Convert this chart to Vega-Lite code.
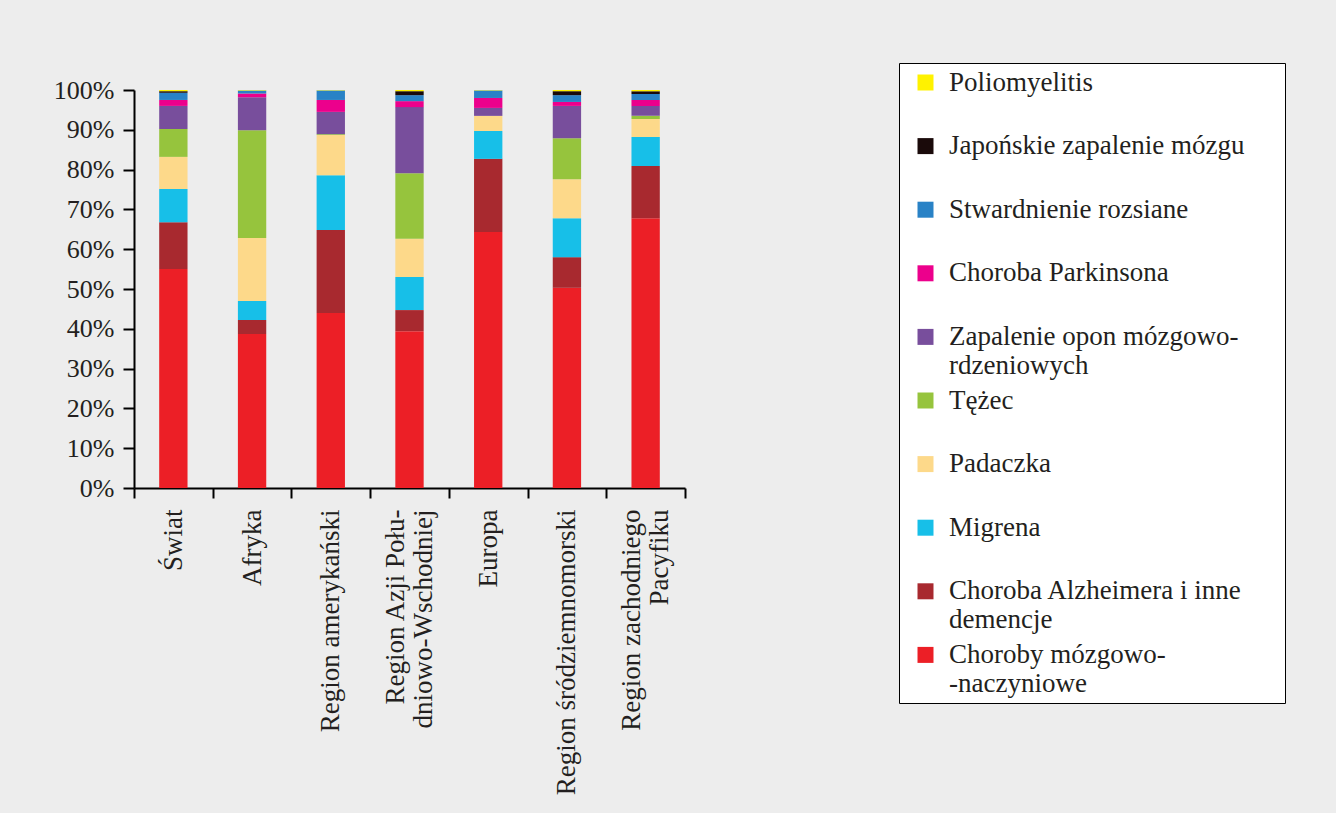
{
  "$schema": "https://vega.github.io/schema/vega-lite/v6.json",
  "background": "#ededed",
  "autosize": {"type": "none"},
  "width": 551,
  "height": 398,
  "padding": {"left": 134, "top": 90, "right": 651, "bottom": 325},
  "data": {
    "values": [
      {"region": "Świat", "disease": "Choroby mózgowo-naczyniowe", "share": 55.0},
      {"region": "Świat", "disease": "Choroba Alzheimera i inne demencje", "share": 11.8},
      {"region": "Świat", "disease": "Migrena", "share": 8.3},
      {"region": "Świat", "disease": "Padaczka", "share": 8.1},
      {"region": "Świat", "disease": "Tężec", "share": 7.0},
      {"region": "Świat", "disease": "Zapalenie opon mózgowo-rdzeniowych", "share": 5.8},
      {"region": "Świat", "disease": "Choroba Parkinsona", "share": 1.5},
      {"region": "Świat", "disease": "Stwardnienie rozsiane", "share": 1.8},
      {"region": "Świat", "disease": "Japońskie zapalenie mózgu", "share": 0.4},
      {"region": "Świat", "disease": "Poliomyelitis", "share": 0.3},

      {"region": "Afryka", "disease": "Choroby mózgowo-naczyniowe", "share": 38.7},
      {"region": "Afryka", "disease": "Choroba Alzheimera i inne demencje", "share": 3.5},
      {"region": "Afryka", "disease": "Migrena", "share": 4.8},
      {"region": "Afryka", "disease": "Padaczka", "share": 15.8},
      {"region": "Afryka", "disease": "Tężec", "share": 27.1},
      {"region": "Afryka", "disease": "Zapalenie opon mózgowo-rdzeniowych", "share": 8.3},
      {"region": "Afryka", "disease": "Choroba Parkinsona", "share": 0.9},
      {"region": "Afryka", "disease": "Stwardnienie rozsiane", "share": 0.8},
      {"region": "Afryka", "disease": "Japońskie zapalenie mózgu", "share": 0.0},
      {"region": "Afryka", "disease": "Poliomyelitis", "share": 0.1},

      {"region": "Region amerykański", "disease": "Choroby mózgowo-naczyniowe", "share": 44.0},
      {"region": "Region amerykański", "disease": "Choroba Alzheimera i inne demencje", "share": 20.8},
      {"region": "Region amerykański", "disease": "Migrena", "share": 13.8},
      {"region": "Region amerykański", "disease": "Padaczka", "share": 10.1},
      {"region": "Region amerykański", "disease": "Tężec", "share": 0.2},
      {"region": "Region amerykański", "disease": "Zapalenie opon mózgowo-rdzeniowych", "share": 5.6},
      {"region": "Region amerykański", "disease": "Choroba Parkinsona", "share": 3.0},
      {"region": "Region amerykański", "disease": "Stwardnienie rozsiane", "share": 2.4},
      {"region": "Region amerykański", "disease": "Japońskie zapalenie mózgu", "share": 0.0},
      {"region": "Region amerykański", "disease": "Poliomyelitis", "share": 0.1},

      {"region": "Region Azji Południowo-Wschodniej", "disease": "Choroby mózgowo-naczyniowe", "share": 39.4},
      {"region": "Region Azji Południowo-Wschodniej", "disease": "Choroba Alzheimera i inne demencje", "share": 5.3},
      {"region": "Region Azji Południowo-Wschodniej", "disease": "Migrena", "share": 8.3},
      {"region": "Region Azji Południowo-Wschodniej", "disease": "Padaczka", "share": 9.6},
      {"region": "Region Azji Południowo-Wschodniej", "disease": "Tężec", "share": 16.5},
      {"region": "Region Azji Południowo-Wschodniej", "disease": "Zapalenie opon mózgowo-rdzeniowych", "share": 16.6},
      {"region": "Region Azji Południowo-Wschodniej", "disease": "Choroba Parkinsona", "share": 1.5},
      {"region": "Region Azji Południowo-Wschodniej", "disease": "Stwardnienie rozsiane", "share": 1.5},
      {"region": "Region Azji Południowo-Wschodniej", "disease": "Japońskie zapalenie mózgu", "share": 1.0},
      {"region": "Region Azji Południowo-Wschodniej", "disease": "Poliomyelitis", "share": 0.3},

      {"region": "Europa", "disease": "Choroby mózgowo-naczyniowe", "share": 64.3},
      {"region": "Europa", "disease": "Choroba Alzheimera i inne demencje", "share": 18.4},
      {"region": "Europa", "disease": "Migrena", "share": 7.0},
      {"region": "Europa", "disease": "Padaczka", "share": 3.8},
      {"region": "Europa", "disease": "Tężec", "share": 0.0},
      {"region": "Europa", "disease": "Zapalenie opon mózgowo-rdzeniowych", "share": 2.0},
      {"region": "Europa", "disease": "Choroba Parkinsona", "share": 2.5},
      {"region": "Europa", "disease": "Stwardnienie rozsiane", "share": 1.9},
      {"region": "Europa", "disease": "Japońskie zapalenie mózgu", "share": 0.0},
      {"region": "Europa", "disease": "Poliomyelitis", "share": 0.1},

      {"region": "Region śródziemnomorski", "disease": "Choroby mózgowo-naczyniowe", "share": 50.3},
      {"region": "Region śródziemnomorski", "disease": "Choroba Alzheimera i inne demencje", "share": 7.7},
      {"region": "Region śródziemnomorski", "disease": "Migrena", "share": 9.8},
      {"region": "Region śródziemnomorski", "disease": "Padaczka", "share": 9.8},
      {"region": "Region śródziemnomorski", "disease": "Tężec", "share": 10.3},
      {"region": "Region śródziemnomorski", "disease": "Zapalenie opon mózgowo-rdzeniowych", "share": 8.1},
      {"region": "Region śródziemnomorski", "disease": "Choroba Parkinsona", "share": 1.0},
      {"region": "Region śródziemnomorski", "disease": "Stwardnienie rozsiane", "share": 1.7},
      {"region": "Region śródziemnomorski", "disease": "Japońskie zapalenie mózgu", "share": 1.0},
      {"region": "Region śródziemnomorski", "disease": "Poliomyelitis", "share": 0.3},

      {"region": "Region zachodniego Pacyfiku", "disease": "Choroby mózgowo-naczyniowe", "share": 67.8},
      {"region": "Region zachodniego Pacyfiku", "disease": "Choroba Alzheimera i inne demencje", "share": 13.1},
      {"region": "Region zachodniego Pacyfiku", "disease": "Migrena", "share": 7.3},
      {"region": "Region zachodniego Pacyfiku", "disease": "Padaczka", "share": 4.5},
      {"region": "Region zachodniego Pacyfiku", "disease": "Tężec", "share": 0.8},
      {"region": "Region zachodniego Pacyfiku", "disease": "Zapalenie opon mózgowo-rdzeniowych", "share": 2.5},
      {"region": "Region zachodniego Pacyfiku", "disease": "Choroba Parkinsona", "share": 1.5},
      {"region": "Region zachodniego Pacyfiku", "disease": "Stwardnienie rozsiane", "share": 1.5},
      {"region": "Region zachodniego Pacyfiku", "disease": "Japońskie zapalenie mózgu", "share": 0.7},
      {"region": "Region zachodniego Pacyfiku", "disease": "Poliomyelitis", "share": 0.3}
    ]
  },
  "transform": [
    {
      "calculate": "indexof(['Choroby mózgowo-naczyniowe', 'Choroba Alzheimera i inne demencje', 'Migrena', 'Padaczka', 'Tężec', 'Zapalenie opon mózgowo-rdzeniowych', 'Choroba Parkinsona', 'Stwardnienie rozsiane', 'Japońskie zapalenie mózgu', 'Poliomyelitis'], datum.disease)",
      "as": "stackOrder"
    }
  ],
  "mark": {"type": "bar", "stroke": null, "width": {"band": 0.36}},
  "encoding": {
    "x": {
      "field": "region",
      "type": "nominal",
      "sort": null,
      "title": null,
      "scale": {"paddingInner": 0, "paddingOuter": 0},
      "axis": {
        "labelAngle": -90,
        "tickBand": "extent",
        "tickSize": 10,
        "labelPadding": 11,
        "labelLimit": 0,
        "labelLineHeight": 28,
        "labelOffset": {
          "condition": {"test": "datum.value == 'Region Azji Południowo-Wschodniej' || datum.value == 'Region zachodniego Pacyfiku'", "value": -14},
          "value": 0
        },
        "labelExpr": "datum.label == 'Region Azji Południowo-Wschodniej' ? ['Region Azji Połu-', 'dniowo-Wschodniej'] : datum.label == 'Region zachodniego Pacyfiku' ? ['Region zachodniego', 'Pacyfiku'] : datum.label"
      }
    },
    "y": {
      "field": "share",
      "type": "quantitative",
      "stack": "zero",
      "title": null,
      "scale": {"domain": [0, 100], "nice": false},
      "axis": {
        "values": [0, 10, 20, 30, 40, 50, 60, 70, 80, 90, 100],
        "labelExpr": "datum.value + '%'",
        "tickSize": 11,
        "labelPadding": 9,
        "grid": false
      }
    },
    "color": {
      "field": "disease",
      "type": "nominal",
      "scale": {
        "domain": ["Poliomyelitis", "Japońskie zapalenie mózgu", "Stwardnienie rozsiane", "Choroba Parkinsona", "Zapalenie opon mózgowo-rdzeniowych", "Tężec", "Padaczka", "Migrena", "Choroba Alzheimera i inne demencje", "Choroby mózgowo-naczyniowe"],
        "range": ["#fff200", "#1a0a0a", "#2982c6", "#ec008c", "#784e9c", "#96c43d", "#fdd98a", "#17bfe8", "#a8292f", "#ec1f26"]
      },
      "legend": {
        "title": null,
        "orient": "none",
        "legendX": 765,
        "legendY": -27,
        "padding": 6,
        "fillColor": "#ffffff",
        "strokeColor": "#000000",
        "symbolType": "square",
        "symbolSize": 256,
        "symbolStrokeWidth": 0,
        "symbolOffset": 7,
        "labelOffset": 10,
        "rowPadding": 6.6,
        "gridAlign": "all",
        "labelFont": "Liberation Serif",
        "labelFontSize": 27,
        "labelColor": "#231f20",
        "labelLimit": 0,
        "labelLineHeight": 26,
        "labelExpr": "datum.label == 'Zapalenie opon mózgowo-rdzeniowych' ? ['Zapalenie opon mózgowo-', 'rdzeniowych'] : datum.label == 'Choroba Alzheimera i inne demencje' ? ['Choroba Alzheimera i inne', 'demencje'] : datum.label == 'Choroby mózgowo-naczyniowe' ? ['Choroby mózgowo-', '-naczyniowe'] : datum.label == 'Japońskie zapalenie mózgu' ? 'Japońskie zapalenie mózgu\u00a0\u00a0\u00a0\u00a0\u00a0\u200b' : datum.label",
        "encode": {
          "legend": {"update": {"strokeWidth": {"value": 2}}},
          "labels": {
            "update": {
              "dy": {"signal": "(datum.label == 'Zapalenie opon mózgowo-rdzeniowych' || datum.label == 'Choroba Alzheimera i inne demencje' || datum.label == 'Choroby mózgowo-naczyniowe') ? 13 : 0"}
            }
          }
        }
      }
    },
    "order": {"field": "stackOrder", "type": "quantitative", "sort": "ascending"}
  },
  "config": {
    "view": {"stroke": null},
    "axis": {
      "labelFont": "Liberation Serif",
      "labelFontSize": 26,
      "labelColor": "#231f20",
      "domainColor": "#000000",
      "domainWidth": 2,
      "tickColor": "#000000",
      "tickWidth": 2
    },
    "axisX": {"labelFontSize": 27}
  }
}
